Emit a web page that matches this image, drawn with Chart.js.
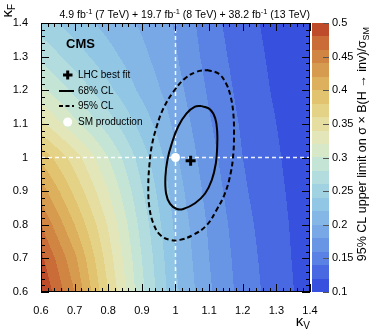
<!DOCTYPE html>
<html>
<head>
<meta charset="utf-8">
<script src="https://cdn.jsdelivr.net/npm/chart.js@4.4.1/dist/chart.umd.min.js"></script>
<style>
  html, body { margin: 0; padding: 0; background: #fff; }
</style>
</head>
<body>
<canvas id="limitChart" width="374" height="334"></canvas>
<script>
// grid of the 95% CL limit, rows = kappa_F, cols = kappa_V
const kappaV = [0.6, 0.7, 0.8, 0.9, 1.0, 1.1, 1.2, 1.3, 1.4];
const kappaF = [0.6, 0.7, 0.8, 0.9, 1.0, 1.1, 1.2, 1.3, 1.4];
const limitGrid = [
    [0.5, 0.44, 0.36, 0.285, 0.224, 0.183, 0.152, 0.13, 0.111],     // kF = 0.6
    [0.485, 0.425, 0.35, 0.28, 0.22, 0.18, 0.15, 0.128, 0.11],      // 0.7
    [0.46, 0.40, 0.338, 0.272, 0.216, 0.177, 0.147, 0.126, 0.11],   // 0.8
    [0.43, 0.375, 0.32, 0.262, 0.21, 0.172, 0.143, 0.124, 0.109],   // 0.9
    [0.395, 0.35, 0.30, 0.25, 0.203, 0.167, 0.14, 0.122, 0.108],    // 1.0
    [0.345, 0.305, 0.27, 0.232, 0.195, 0.162, 0.137, 0.12, 0.107],  // 1.1
    [0.305, 0.275, 0.245, 0.215, 0.188, 0.157, 0.133, 0.117, 0.106],// 1.2
    [0.275, 0.25, 0.227, 0.205, 0.182, 0.152, 0.13, 0.115, 0.105],  // 1.3
    [0.25, 0.23, 0.213, 0.197, 0.178, 0.148, 0.127, 0.113, 0.105]   // 1.4
];

// 68% CL contour
const cl68V = [1.078, 1.103, 1.118, 1.124, 1.124, 1.120, 1.108, 1.088, 1.058, 1.023, 1.004, 0.984, 0.972, 0.970, 0.976, 0.989, 1.008, 1.033, 1.058, 1.078];
const cl68F = [1.153, 1.143, 1.117, 1.077, 1.032, 0.983, 0.933, 0.893, 0.864, 0.847, 0.847, 0.862, 0.893, 0.943, 0.993, 1.042, 1.092, 1.131, 1.151, 1.153];
// 95% CL contour
const cl95V = [1.093, 1.127, 1.150, 1.164, 1.172, 1.174, 1.172, 1.164, 1.147, 1.122, 1.093, 1.053, 1.013, 0.984, 0.954, 0.934, 0.922, 0.919, 0.922, 0.929, 0.944, 0.964, 0.994, 1.028, 1.063, 1.093];
const cl95F = [1.260, 1.250, 1.221, 1.181, 1.131, 1.072, 1.012, 0.953, 0.893, 0.844, 0.799, 0.770, 0.755, 0.755, 0.770, 0.804, 0.854, 0.913, 0.973, 1.032, 1.092, 1.146, 1.196, 1.235, 1.255, 1.260];

const bestFit = { x: 1.045, y: 0.99 };
const smPoint = { x: 1.0, y: 1.0 };

const xTicks = [0.6, 0.7, 0.8, 0.9, 1.0, 1.1, 1.2, 1.3, 1.4];
const yTicks = [0.6, 0.7, 0.8, 0.9, 1.0, 1.1, 1.2, 1.3, 1.4];
const zTicks = [0.1, 0.15, 0.2, 0.25, 0.3, 0.35, 0.4, 0.45, 0.5];

// colour palette, 20 bands from 0.1 to 0.5
const palette = [
    [55, 80, 222], [72, 105, 225], [90, 130, 228], [105, 150, 228], [120, 168, 230],
    [132, 183, 230], [145, 198, 228], [160, 210, 226], [178, 220, 222], [196, 228, 214],
    [214, 232, 200], [226, 230, 185], [230, 222, 160], [228, 210, 135], [225, 195, 112],
    [220, 176, 92], [215, 155, 80], [208, 133, 67], [201, 108, 55], [190, 76, 42]
];
const zMin = 0.1, zMax = 0.5;
const FONT = '"Liberation Sans", Arial, Helvetica, sans-serif';

function toPoints(xs, ys) {
    return xs.map((x, i) => ({ x: x, y: ys[i] }));
}

function limitAt(v, f) {
    const nx = kappaV.length, ny = kappaF.length;
    let i = 0, j = 0;
    while (i < nx - 2 && v > kappaV[i + 1]) i++;
    while (j < ny - 2 && f > kappaF[j + 1]) j++;
    let tx = (v - kappaV[i]) / (kappaV[i + 1] - kappaV[i]);
    let ty = (f - kappaF[j]) / (kappaF[j + 1] - kappaF[j]);
    tx = Math.min(Math.max(tx, 0), 1);
    ty = Math.min(Math.max(ty, 0), 1);
    const a = limitGrid[j][i], b = limitGrid[j][i + 1];
    const c = limitGrid[j + 1][i], d = limitGrid[j + 1][i + 1];
    return (a * (1 - tx) + b * tx) * (1 - ty) + (c * (1 - tx) + d * tx) * ty;
}

function colourFor(val) {
    let k = Math.floor((val - zMin) / (zMax - zMin) * palette.length);
    k = Math.min(Math.max(k, 0), palette.length - 1);
    return palette[k];
}

// text with sub/superscripts: segments {t, size, dy, bold}
function richWidth(ctx, segs) {
    let w = 0;
    segs.forEach(s => {
        ctx.font = (s.bold ? 'bold ' : '') + s.size + 'px ' + FONT;
        w += ctx.measureText(s.t).width;
    });
    return w;
}
function drawRich(ctx, segs, x, y) {
    segs.forEach(s => {
        ctx.font = (s.bold ? 'bold ' : '') + s.size + 'px ' + FONT;
        ctx.fillText(s.t, x, y + (s.dy || 0));
        x += ctx.measureText(s.t).width;
    });
}

const heatmapPlugin = {
    id: 'heatmap',
    beforeDatasetsDraw(chart) {
        const { ctx, chartArea: a, scales } = chart;
        const w = Math.round(a.right - a.left), h = Math.round(a.bottom - a.top);
        const img = ctx.createImageData(w, h);
        for (let py = 0; py < h; py++) {
            const f = scales.y.getValueForPixel(a.top + py + 0.5);
            for (let px = 0; px < w; px++) {
                const v = scales.x.getValueForPixel(a.left + px + 0.5);
                const col = colourFor(limitAt(v, f));
                const o = (py * w + px) * 4;
                img.data[o] = col[0]; img.data[o + 1] = col[1]; img.data[o + 2] = col[2]; img.data[o + 3] = 255;
            }
        }
        ctx.putImageData(img, Math.round(a.left), Math.round(a.top));

        // colour bar
        const z = scales.z;
        const bx = a.right + 2, bw = 17;
        for (let k = 0; k < palette.length; k++) {
            const lo = zMin + (zMax - zMin) * k / palette.length;
            const hi = zMin + (zMax - zMin) * (k + 1) / palette.length;
            const y0 = z.getPixelForValue(hi), y1 = z.getPixelForValue(lo);
            ctx.fillStyle = 'rgb(' + palette[k].join(',') + ')';
            ctx.fillRect(bx, Math.round(y0), bw, Math.round(y1) - Math.round(y0));
        }
        ctx.strokeStyle = '#555';
        ctx.lineWidth = 1;
        zTicks.forEach(t => {
            const yy = Math.round(z.getPixelForValue(t)) + 0.5;
            ctx.beginPath();
            ctx.moveTo(bx + bw, yy);
            ctx.lineTo(bx + bw - 6, yy);
            ctx.stroke();
        });
    }
};

const framePlugin = {
    id: 'frame',
    afterDatasetsDraw(chart) {
        const { ctx, chartArea: a, scales } = chart;
        ctx.save();
        ctx.strokeStyle = '#000';
        ctx.lineWidth = 1;
        ctx.strokeRect(a.left + 0.5, a.top + 0.5, a.right - a.left - 1, a.bottom - a.top - 1);
        ctx.beginPath();
        const xStep = (xTicks[1] - xTicks[0]) / 5;
        for (let k = 0; k <= Math.round((xTicks[xTicks.length - 1] - xTicks[0]) / xStep); k++) {
            const v = xTicks[0] + k * xStep;
            const len = k % 5 === 0 ? 8 : 4;
            const px = Math.round(scales.x.getPixelForValue(v)) + 0.5;
            ctx.moveTo(px, a.bottom); ctx.lineTo(px, a.bottom - len);
            ctx.moveTo(px, a.top); ctx.lineTo(px, a.top + len);
        }
        const yStep = (yTicks[1] - yTicks[0]) / 5;
        for (let k = 0; k <= Math.round((yTicks[yTicks.length - 1] - yTicks[0]) / yStep); k++) {
            const v = yTicks[0] + k * yStep;
            const len = k % 5 === 0 ? 8 : 4;
            const py = Math.round(scales.y.getPixelForValue(v)) + 0.5;
            ctx.moveTo(a.left, py); ctx.lineTo(a.left + len, py);
            ctx.moveTo(a.right, py); ctx.lineTo(a.right - len, py);
        }
        ctx.stroke();
        ctx.restore();
    },
    afterDraw(chart) {
        const { ctx, chartArea: a } = chart;
        ctx.save();
        ctx.fillStyle = '#000';
        ctx.textBaseline = 'alphabetic';

        // luminosity label
        const lumi = [
            { t: '4.9 fb', size: 10.5 }, { t: '-1', size: 7.5, dy: -4 }, { t: ' (7 TeV) + 19.7 fb', size: 10.5 },
            { t: '-1', size: 7.5, dy: -4 }, { t: ' (8 TeV) + 38.2 fb', size: 10.5 }, { t: '-1', size: 7.5, dy: -4 },
            { t: ' (13 TeV)', size: 10.5 }
        ];
        drawRich(ctx, lumi, a.right - richWidth(ctx, lumi), 18);

        // axis titles
        const kv = [{ t: 'κ', size: 15 }, { t: 'V', size: 10, dy: 3 }];
        drawRich(ctx, kv, a.right - richWidth(ctx, kv), 326);

        const kf = [{ t: 'κ', size: 15 }, { t: 'F', size: 10, dy: 3 }];
        ctx.save();
        ctx.translate(12, 4);
        ctx.rotate(-Math.PI / 2);
        drawRich(ctx, kf, -richWidth(ctx, kf), 0);
        ctx.restore();

        const zt = [{ t: '95% CL upper limit on σ × B(H → inv)/σ', size: 12.5 }, { t: 'SM', size: 9, dy: 3 }];
        ctx.save();
        ctx.translate(366, 27);
        ctx.rotate(-Math.PI / 2);
        drawRich(ctx, zt, -richWidth(ctx, zt), 0);
        ctx.restore();

        // CMS label and legend
        ctx.font = 'bold 13px ' + FONT;
        ctx.fillText('CMS', 66, 48);

        ctx.font = '10px ' + FONT;
        ctx.textBaseline = 'middle';
        const lx = 78;
        ctx.fillText('LHC best fit', lx, 75);
        ctx.fillText('68% CL', lx, 91);
        ctx.fillText('95% CL', lx, 106);
        ctx.fillText('SM production', lx, 122);

        ctx.strokeStyle = '#000';
        ctx.lineWidth = 3;
        ctx.beginPath();
        ctx.moveTo(63, 75); ctx.lineTo(72.5, 75);
        ctx.moveTo(67.7, 70.5); ctx.lineTo(67.7, 79.5);
        ctx.stroke();
        ctx.lineWidth = 2;
        ctx.beginPath();
        ctx.moveTo(59, 91); ctx.lineTo(74, 91);
        ctx.stroke();
        ctx.setLineDash([4, 2.5]);
        ctx.beginPath();
        ctx.moveTo(59, 106); ctx.lineTo(74, 106);
        ctx.stroke();
        ctx.setLineDash([]);
        ctx.fillStyle = '#fff';
        ctx.beginPath();
        ctx.arc(67.7, 122, 4.5, 0, Math.PI * 2);
        ctx.fill();
        ctx.restore();
    }
};

const ctxLimit = document.getElementById('limitChart').getContext('2d');
const limitChart = new Chart(ctxLimit, {
    type: 'scatter',
    data: {
        datasets: [
            {
                label: 'LHC best fit',
                data: [bestFit],
                pointStyle: 'cross',
                pointRadius: 5,
                borderColor: '#000',
                borderWidth: 3,
                order: 0
            },
            {
                label: 'SM production',
                data: [smPoint],
                pointStyle: 'circle',
                pointRadius: 4.5,
                backgroundColor: '#fff',
                borderWidth: 0,
                order: 0
            },
            {
                label: '68% CL',
                data: toPoints(cl68V, cl68F),
                showLine: true,
                borderColor: '#000',
                borderWidth: 2,
                pointRadius: 0,
                tension: 0.4,
                order: 1
            },
            {
                label: '95% CL',
                data: toPoints(cl95V, cl95F),
                showLine: true,
                borderColor: '#000',
                borderWidth: 2,
                borderDash: [5, 3],
                pointRadius: 0,
                tension: 0.4,
                order: 1
            },
            {
                label: 'SM kV',
                data: [{ x: smPoint.x, y: yTicks[0] }, { x: smPoint.x, y: yTicks[yTicks.length - 1] }],
                showLine: true,
                borderColor: 'rgba(255,255,255,0.9)',
                borderWidth: 1.5,
                borderDash: [4, 3],
                pointRadius: 0,
                order: 2
            },
            {
                label: 'SM kF',
                data: [{ x: xTicks[0], y: smPoint.y }, { x: xTicks[xTicks.length - 1], y: smPoint.y }],
                showLine: true,
                borderColor: 'rgba(255,255,255,0.9)',
                borderWidth: 1.5,
                borderDash: [4, 3],
                pointRadius: 0,
                order: 2
            }
        ]
    },
    options: {
        responsive: false,
        animation: false,
        layout: { padding: { top: 23, left: 0, right: 0, bottom: 0 } },
        plugins: { legend: { display: false }, tooltip: { enabled: false } },
        scales: {
            x: {
                type: 'linear',
                min: xTicks[0],
                max: xTicks[xTicks.length - 1],
                afterBuildTicks: s => { s.ticks = xTicks.map(v => ({ value: v })); },
                afterFit: s => { s.height = 42; },
                grid: { display: false },
                border: { display: false },
                ticks: {
                    autoSkip: false, maxRotation: 0, padding: 4,
                    color: '#000', font: { family: FONT, size: 11 },
                    callback: v => String(Math.round(v * 10) / 10)
                }
            },
            y: {
                type: 'linear',
                min: yTicks[0],
                max: yTicks[yTicks.length - 1],
                afterBuildTicks: s => { s.ticks = yTicks.map(v => ({ value: v })); },
                afterFit: s => { s.width = 41; },
                grid: { display: false },
                border: { display: false },
                ticks: {
                    autoSkip: false, padding: 5,
                    color: '#000', font: { family: FONT, size: 11 },
                    callback: v => String(Math.round(v * 10) / 10)
                }
            },
            z: {
                type: 'linear',
                position: 'right',
                min: zMin,
                max: zMax,
                afterBuildTicks: s => { s.ticks = zTicks.map(v => ({ value: v })); },
                afterFit: s => { s.width = 64; },
                grid: { display: true, drawOnChartArea: false, tickLength: 19, tickColor: 'rgba(0,0,0,0)' },
                border: { display: false },
                ticks: {
                    autoSkip: false, padding: 3,
                    color: '#000', font: { family: FONT, size: 11 },
                    callback: v => String(Math.round(v * 100) / 100)
                }
            }
        }
    },
    plugins: [heatmapPlugin, framePlugin]
});
</script>
</body>
</html>
